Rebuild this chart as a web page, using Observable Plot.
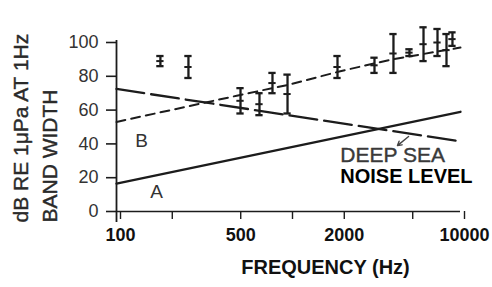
<!DOCTYPE html>
<html>
<head>
<meta charset="utf-8">
<script src="https://cdn.jsdelivr.net/npm/d3@7"></script>
<script src="https://cdn.jsdelivr.net/npm/@observablehq/plot@0.6"></script>
<style>
  html, body { margin: 0; padding: 0; background: #fff; }
  #chart svg { display: block; }
</style>
</head>
<body>
<div id="chart"></div>
<script>
// Tick values / labels
const freqTicks = [100, 200, 500, 1000, 2000, 5000, 10000];
const freqLabels = [100, 500, 2000, 10000];
const dbTicks = [0, 20, 40, 60, 80, 100];

// Measured data: error bars (frequency Hz, low dB, high dB)
const barFreq = [180, 262, 526, 678, 807, 987, 1927, 3162, 4076, 5050, 6095, 7350, 8290, 8980];
const barLow  = [86, 79, 58, 57, 70, 58, 79, 82, 82, 92, 89, 92, 86, 98];
const barHigh = [92, 92, 73, 70, 82, 81, 92, 91, 105, 96, 109, 108, 105, 106];

// Line A (solid)
const lineAFreq = [100, 10000];
const lineADb = [16.5, 59];
// Line B (long dashes, descending)
const lineBFreq = [100, 10000];
const lineBDb = [72.5, 41.5];
// Trend through measurements (short dashes)
const trendFreq = [100, 500, 1000, 2000, 4000, 10000];
const trendDb = [53, 68.5, 75, 83, 90, 97];

// Annotations
const labelText = ["A", "B"];
const labelFreq = [171, 140];
const labelDb = [11.8, 42];
const noteText = ["DEEP SEA", "NOISE LEVEL"];
const noteFreq = [2000, 2000];
const noteDb = [33, 20.5];
const arrowFreq = [4990, 4300];
const arrowDb = [44.4, 39];

const bars = barFreq.map((f, i) => ({f, lo: barLow[i], hi: barHigh[i], mid: (barLow[i] + barHigh[i]) / 2}));
const lineA = lineAFreq.map((f, i) => ({f, v: lineADb[i]}));
const lineB = lineBFreq.map((f, i) => ({f, v: lineBDb[i]}));
const trend = trendFreq.map((f, i) => ({f, v: trendDb[i]}));
const labels = labelText.map((t, i) => ({t, f: labelFreq[i], v: labelDb[i]}));
const notes = noteText.map((t, i) => ({t, f: noteFreq[i], v: noteDb[i]}));

const ink = "#1c1c1c";
const capFactor = 1.05;

const chart = Plot.plot({
  width: 492,
  height: 287,
  marginTop: 42,
  marginBottom: 76,
  marginLeft: 116,
  marginRight: 32,
  style: {fontFamily: "'Liberation Sans', Arial, sans-serif", background: "#fff"},
  x: {type: "log", domain: [100, 10000]},
  y: {domain: [0, 100]},
  marks: [
    Plot.axisY({
      ticks: dbTicks, tickSize: 10, tickPadding: 8, fontSize: 18,
      label: null, stroke: ink, strokeWidth: 1.6, fill: "#333"
    }),
    Plot.axisX({
      ticks: freqTicks, tickSize: 8, tickPadding: 9, fontSize: 18, fontWeight: "bold",
      tickFormat: d => freqLabels.includes(d) ? String(d) : "",
      label: null, stroke: ink, strokeWidth: 1.4, fill: "#111", dx: 4
    }),
    Plot.ruleY([0], {stroke: ink, strokeWidth: 1.6}),
    Plot.ruleX([100], {stroke: ink, strokeWidth: 1.8, insetTop: -2, insetBottom: -11}),
    // lines
    Plot.line(lineA, {x: "f", y: "v", stroke: ink, strokeWidth: 2.3}),
    Plot.line(lineB, {x: "f", y: "v", stroke: ink, strokeWidth: 2.3, strokeDasharray: "28,7"}),
    Plot.line(trend, {x: "f", y: "v", stroke: ink, strokeWidth: 2, strokeDasharray: "9,6"}),
    // error bars
    Plot.ruleX(bars, {x: "f", y1: "lo", y2: "hi", stroke: ink, strokeWidth: 2.3}),
    Plot.ruleY(bars, {y: "lo", x1: d => d.f / capFactor, x2: d => d.f * capFactor, stroke: ink, strokeWidth: 2.3}),
    Plot.ruleY(bars, {y: "hi", x1: d => d.f / capFactor, x2: d => d.f * capFactor, stroke: ink, strokeWidth: 2.3}),
    Plot.ruleY(bars, {y: "mid", x1: d => d.f / capFactor, x2: d => d.f * capFactor, stroke: ink, strokeWidth: 2}),
    // labels A / B
    Plot.text(labels, {x: "f", y: "v", text: "t", fontSize: 19, fill: "#333"}),
    // deep sea note
    Plot.text(notes.slice(0, 1), {x: "f", y: "v", text: "t", fontSize: 21, fill: "#3a3a3a", textAnchor: "start",
      stroke: "#3a3a3a", strokeWidth: 0.4}),
    Plot.text(notes.slice(1), {x: "f", y: "v", text: "t", fontSize: 20, fontWeight: "bold", fill: "#000", textAnchor: "start"}),
    Plot.arrow([{x1: arrowFreq[0], y1: arrowDb[0], x2: arrowFreq[1], y2: arrowDb[1]}],
      {x1: "x1", y1: "y1", x2: "x2", y2: "y2", stroke: "#444", strokeWidth: 1.4, headLength: 5}),
    // axis titles
    Plot.text(["FREQUENCY (Hz)"], {frameAnchor: "bottom", text: d => d, dx: 37, dy: 56,
      fontSize: 20, fontWeight: "bold", fill: "#111", lineAnchor: "middle"}),
    Plot.text(["dB RE 1μPa AT 1Hz"], {frameAnchor: "bottom-left", text: d => d, rotate: -90,
      textAnchor: "start", lineAnchor: "middle", dx: -95, dy: 11, fontSize: 21, fill: "#2a2a2a",
      stroke: "#2a2a2a", strokeWidth: 0.4}),
    Plot.text(["BAND WIDTH"], {frameAnchor: "bottom-left", text: d => d, rotate: -90,
      textAnchor: "start", lineAnchor: "middle", dx: -66, dy: 11, fontSize: 21, fill: "#2a2a2a",
      stroke: "#2a2a2a", strokeWidth: 0.4})
  ]
});

document.getElementById("chart").appendChild(chart);
</script>
</body>
</html>
